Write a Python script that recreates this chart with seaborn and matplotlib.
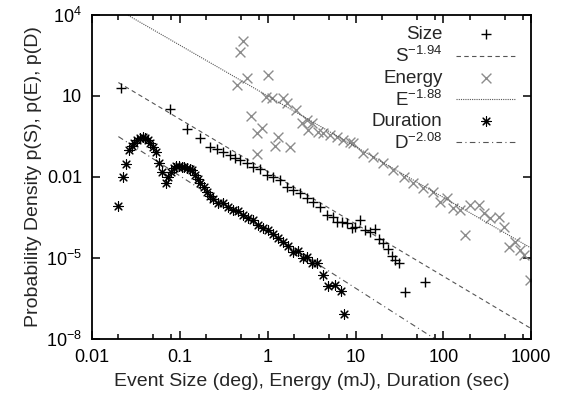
import numpy as np
import pandas as pd
import seaborn as sns
import matplotlib
matplotlib.use("Agg")
import matplotlib.pyplot as plt
from matplotlib.ticker import FixedLocator, FixedFormatter, NullLocator

# Event size (deg)
size_x = [0.0214, 0.0773, 0.12, 0.17, 0.221, 0.263, 0.313, 0.373, 0.425, 0.485,
          0.578, 0.687, 0.819, 0.977, 1.16, 1.38, 1.65, 1.96, 2.34, 2.79,
          3.31, 3.95, 4.71, 5.6, 6.12, 6.98, 7.96, 9.08, 9.9, 11.3,
          12.9, 14.7, 16.7, 18.7, 20.8, 23.7, 25.9, 28.2, 31.6, 36.7, 62.1]
size_y = [19.8, 3.3, 0.6, 0.271, 0.132, 0.106, 0.0865, 0.0653, 0.0493, 0.0427,
          0.0321, 0.024, 0.0193, 0.0119, 0.00975, 0.00774, 0.00438, 0.0033, 0.00249, 0.00163,
          0.00122, 7.9e-4, 3.9e-4, 3.4e-4, 2.21e-4, 2.21e-4, 1.93e-4, 1.26e-4, 1.44e-4, 2.55e-4,
          1.09e-4, 9.4e-5, 1.16e-4, 4.9e-5, 3.5e-5, 2.1e-5, 1.19e-5, 8.4e-6, 6.7e-6, 5.6e-7, 1.26e-6]

# Energy (mJ)
energy_x = [0.52, 0.485, 0.578, 0.445, 1.02, 0.96, 1.11, 1.51, 1.65, 2.10,
            2.44, 2.79, 3.18, 2.91, 3.78, 4.31, 5.14, 6.12, 7.28, 8.67,
            9.46, 12.3, 16.0, 20.8, 27.0, 35.2, 45.6, 59.3, 77.1, 92,
            110, 130, 155, 202, 251, 286, 341, 424, 483, 177,
            551, 657, 750, 817, 975, 0.643, 0.752, 0.857, 1.30, 0.752,
            1.21, 1.80]
energy_y = [1090, 438, 45, 25.5, 60, 9.4, 8.2, 8.2, 5.4, 3.03,
            0.975, 1.29, 0.975, 0.55, 0.477, 0.416, 0.36, 0.311, 0.234, 0.203,
            0.177, 0.0755, 0.0565, 0.0321, 0.0182, 0.0103, 0.00585, 0.00402, 0.00267, 0.00122,
            0.00163, 6.9e-4, 6.0e-4, 9.2e-4, 9.2e-4, 4.5e-4, 2.95e-4, 3.4e-4, 1.44e-4, 7.1e-5,
            2.6e-5, 4.0e-5, 1.98e-5, 1.29e-5, 1.53e-6, 1.86, 0.416, 0.67, 0.303, 0.071,
            0.14, 0.132]

# Duration (sec)
duration_x = [0.020, 0.0224, 0.0246, 0.0266, 0.0283, 0.0303, 0.0328, 0.0352, 0.0378, 0.0405,
              0.0431, 0.0461, 0.0499, 0.0532, 0.058, 0.0632, 0.069, 0.074, 0.0794, 0.0853,
              0.0913, 0.098, 0.105, 0.1125, 0.121, 0.130, 0.139, 0.149, 0.160, 0.171,
              0.187, 0.202, 0.221, 0.241, 0.274, 0.313, 0.356, 0.406, 0.463, 0.528,
              0.602, 0.687, 0.783, 0.893, 1.02, 1.16, 1.32, 1.51, 1.72, 1.96,
              2.24, 2.55, 2.83, 3.18, 3.68, 4.31, 4.91, 5.86, 6.8, 7.4]
duration_y = [8.6e-4, 9.7e-3, 0.030, 0.10, 0.14, 0.186, 0.234, 0.271, 0.295, 0.286,
              0.234, 0.177, 0.132, 0.0865, 0.032, 0.0157, 0.00615, 0.0103, 0.0157, 0.021,
              0.0255, 0.0255, 0.024, 0.0229, 0.021, 0.0193, 0.0182, 0.0119, 0.0082, 0.00615,
              0.00438, 0.00286, 0.00198, 0.00149, 0.00112, 0.00106, 7.9e-4, 6.0e-4, 5.65e-4, 3.9e-4,
              2.95e-4, 2.55e-4, 1.67e-4, 1.26e-4, 1.09e-4, 7.7e-5, 5.4e-5, 4.0e-5, 2.8e-5, 1.7e-5,
              1.86e-5, 9.7e-6, 1.1e-5, 6.7e-6, 6.7e-6, 2.35e-6, 9.2e-7, 1.0e-6, 6.0e-7, 8.4e-8]

# power-law fits p = 10**log_amp * v**(-alpha)
size_alpha, size_log_amp = 1.94, -1.8
energy_alpha, energy_log_amp = 1.88, 1.0
duration_alpha, duration_log_amp = 2.08, -4.04

x_ticks = [0.01, 0.1, 1, 10, 100, 1000]
x_labels = ["0.01", "0.1", "1", "10", "100", "1000"]
y_ticks = [1e-8, 1e-5, 1e-2, 10, 1e4]
y_labels = ["10$^{-8}$", "10$^{-5}$", "0.01", "10", "10$^{4}$"]

sns.set_theme(style="ticks")
plt.rcParams["font.family"] = ["Liberation Sans", "DejaVu Sans"]
plt.rcParams["mathtext.default"] = "regular"

fig, ax = plt.subplots(figsize=(5.64, 4.03), dpi=100)
fig.subplots_adjust(left=0.163, right=0.942, top=0.963, bottom=0.159)


def fit_line(lo, hi, alpha, log_amp):
    v = np.logspace(np.log10(lo), np.log10(hi), 200)
    return v, 10 ** log_amp * v ** (-alpha)


sx, sy = fit_line(0.02, 1000, size_alpha, size_log_amp)
ex, ey = fit_line(0.02, 1000, energy_alpha, energy_log_amp)
dx, dy = fit_line(0.02, 100, duration_alpha, duration_log_amp)

sns.scatterplot(x=size_x, y=size_y, marker="+", color="black", s=55, linewidth=1.0,
                ax=ax, label="Size", zorder=3)
sns.lineplot(x=sx, y=sy, color="#555555", linewidth=0.8, linestyle=(0, (4, 3)),
             ax=ax, label="S$^{-1.94}$", errorbar=None)
sns.scatterplot(x=energy_x, y=energy_y, marker="x", color="#8c8c8c", s=50, linewidth=1.0,
                ax=ax, label="Energy", zorder=2)
sns.lineplot(x=ex, y=ey, color="#555555", linewidth=0.8, linestyle=(0, (1, 1)),
             ax=ax, label="E$^{-1.88}$", errorbar=None)
sns.scatterplot(x=duration_x, y=duration_y, marker=(8, 2, 0), color="black", s=48, linewidth=0.8,
                ax=ax, label="Duration", zorder=3)
sns.lineplot(x=dx, y=dy, color="#555555", linewidth=0.8, linestyle=(0, (5, 3, 1, 3)),
             ax=ax, label="D$^{-2.08}$", errorbar=None)

ax.set_xscale("log")
ax.set_yscale("log")
ax.set_xlim(0.01, 1000)
ax.set_ylim(1e-8, 1e4)

ax.xaxis.set_major_locator(FixedLocator(x_ticks))
ax.xaxis.set_major_formatter(FixedFormatter(x_labels))
minor = [m * d for d in [0.01, 0.1, 1, 10, 100] for m in (2, 5, 8)]
ax.xaxis.set_minor_locator(FixedLocator(minor))
ax.yaxis.set_major_locator(FixedLocator(y_ticks))
ax.yaxis.set_major_formatter(FixedFormatter(y_labels))
ax.yaxis.set_minor_locator(NullLocator())

ax.tick_params(which="both", direction="in", top=True, right=True, colors="black",
               labelsize=13, width=1.1)
ax.tick_params(which="major", length=6, pad=7)
ax.tick_params(which="minor", length=3.5)
for sp in ax.spines.values():
    sp.set_linewidth(1.3)
    sp.set_color("black")

ax.set_xlabel("Event Size (deg), Energy (mJ), Duration (sec)", fontsize=14, labelpad=5)
ax.set_ylabel("Probability Density p(S), p(E), p(D)", fontsize=14, labelpad=3)

handles, labels = ax.get_legend_handles_labels()
leg = ax.legend(handles, labels, loc="upper right", frameon=False, markerfirst=False,
                fontsize=13.5, handlelength=3.2, labelspacing=0.16, handletextpad=0.7,
                borderaxespad=0.2, bbox_to_anchor=(0.99, 1.0))
leg._legend_box._children[-1]._children[0].align = "right"

fig.savefig("out.png", dpi=100)
